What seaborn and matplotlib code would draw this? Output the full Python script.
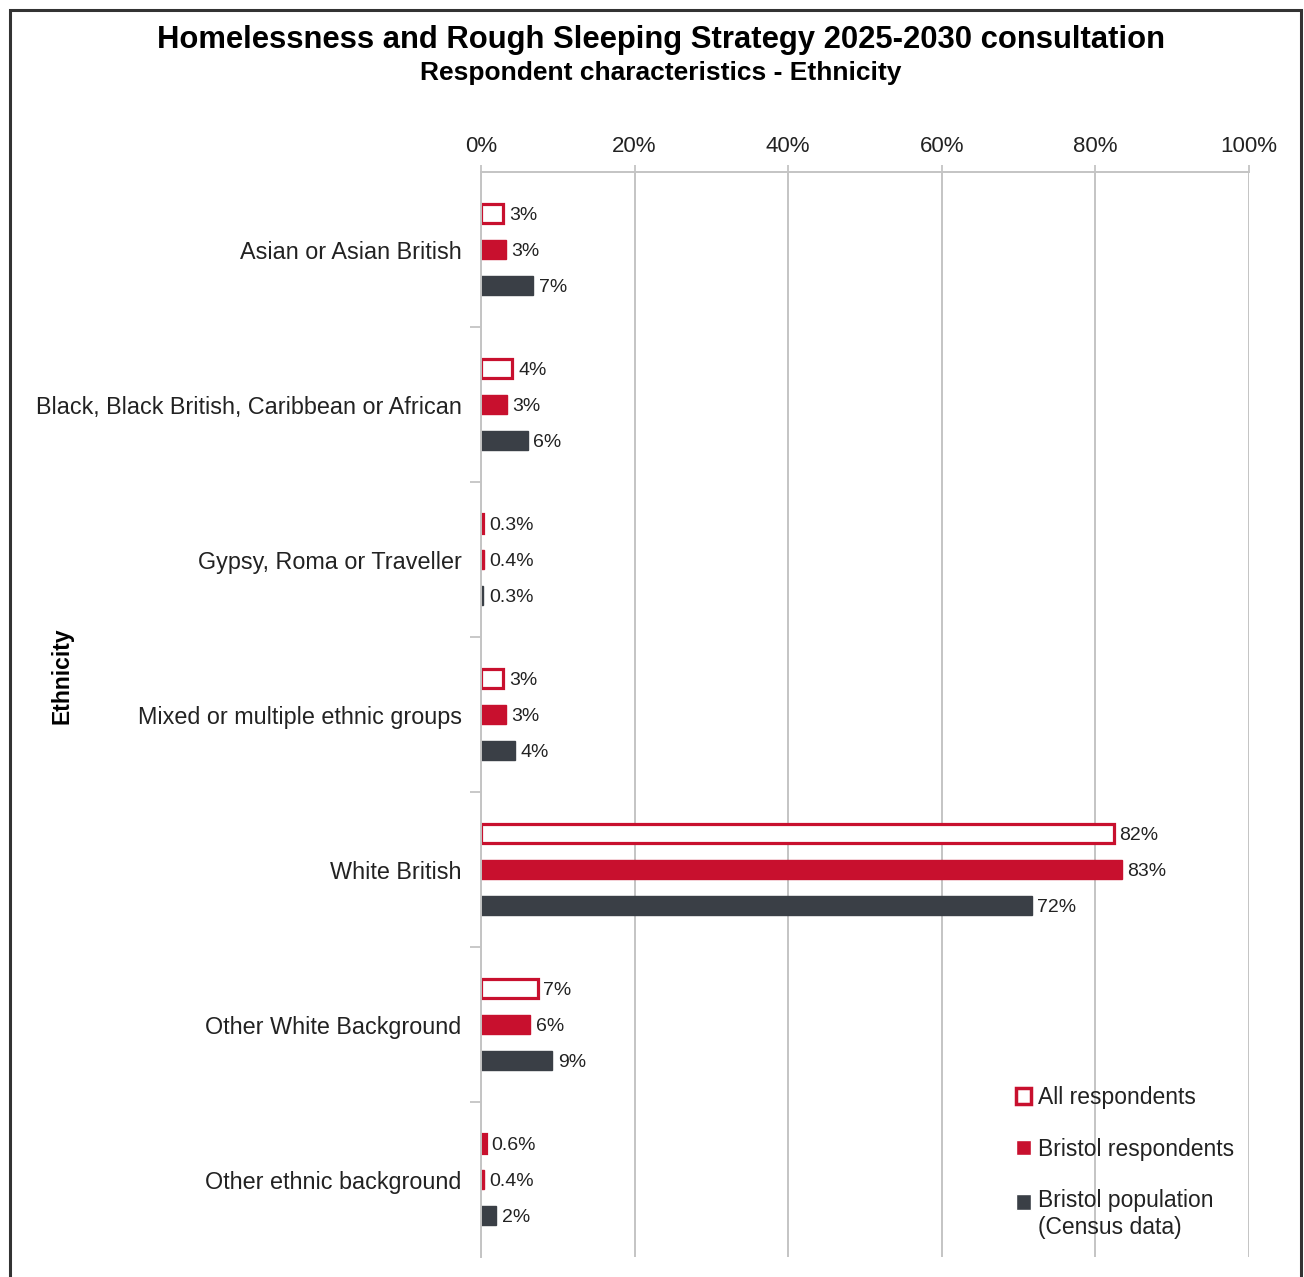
import matplotlib
matplotlib.use("Agg")
import matplotlib.pyplot as plt
from matplotlib.patches import Rectangle
from matplotlib.ticker import FixedLocator, PercentFormatter
import seaborn as sns
import pandas as pd

# Survey data (% of respondents / population)
categories = [
    "Asian or Asian British",
    "Black, Black British, Caribbean or African",
    "Gypsy, Roma or Traveller",
    "Mixed or multiple ethnic groups",
    "White British",
    "Other White Background",
    "Other ethnic background",
]
series_names = ["All respondents", "Bristol respondents",
                "Bristol population\n(Census data)"]
all_respondents = [2.9, 4.1, 0.3, 2.9, 82.4, 7.4, 0.6]
bristol_respondents = [3.2, 3.4, 0.4, 3.2, 83.4, 6.4, 0.4]
bristol_population = [6.8, 6.1, 0.3, 4.4, 71.7, 9.3, 2.0]
x_ticks = [0, 20, 40, 60, 80, 100]

RED = "#C8102E"
DARK = "#3A3F46"
GRID = "#C4C4C4"
TEXT = "#222222"

rows = []
for name, vals in zip(series_names,
                      [all_respondents, bristol_respondents, bristol_population]):
    for cat, v in zip(categories, vals):
        rows.append({"Ethnicity": cat, "group": name, "value": v})
df = pd.DataFrame(rows)

sns.set_theme(style="white")
plt.rcParams["font.family"] = ["Liberation Sans", "DejaVu Sans"]

fig = plt.figure(figsize=(13.04, 12.77), dpi=100)
ax = fig.add_axes([481 / 1304, 1 - 1257 / 1277, 768 / 1304, 1085 / 1277])

sns.barplot(data=df, y="Ethnicity", x="value", hue="group", orient="h",
            order=categories, hue_order=series_names,
            palette=[RED, RED, DARK], width=0.69, gap=0.46,
            errorbar=None, saturation=1, ax=ax)

# hollow style for the first series (very short bars stay solid),
# thin outline on the filled ones
for bar in ax.containers[0]:
    bar.set_facecolor(RED if bar.get_width() < 1 else "white")
    bar.set_edgecolor(RED)
    bar.set_linewidth(2.3)
    bar.set_joinstyle("miter")
for cont, col in zip(ax.containers[1:], [RED, DARK]):
    for bar in cont:
        bar.set_edgecolor(col)
        bar.set_linewidth(1.0)

def fmt(v):
    return f"{v:.1f}%" if v < 1 else f"{v:.0f}%"

for cont, vals in zip(ax.containers,
                      [all_respondents, bristol_respondents, bristol_population]):
    texts = ax.bar_label(cont, labels=[fmt(v) for v in vals], padding=4,
                         fontsize=14, color=TEXT)
    for t in texts:
        t.set_va("center_baseline")

ax.set_xlim(0, 100)
ax.set_ylim(len(categories) - 0.5, -0.5)
ax.xaxis.tick_top()
ax.xaxis.set_label_position("top")
ax.xaxis.set_major_locator(FixedLocator(x_ticks))
ax.xaxis.set_major_formatter(PercentFormatter(decimals=0))
ax.tick_params(axis="x", which="major", direction="out", length=5, width=1.3,
               color=GRID, pad=6, labelsize=16, labelcolor=TEXT, top=True,
               bottom=False)
ax.grid(axis="x", color=GRID, linewidth=1.4)
ax.set_axisbelow(True)

# category labels with separator ticks between groups
ax.yaxis.set_minor_locator(FixedLocator([i + 0.5 for i in range(len(categories) - 1)]))
ax.tick_params(axis="y", which="major", length=0, pad=14, labelsize=16.8,
               labelcolor=TEXT)
ax.tick_params(axis="y", which="minor", direction="out", length=8, width=1.3,
               color=GRID, left=True)
ax.set_ylabel("")
ax.set_xlabel("")

for side in ["right", "bottom"]:
    ax.spines[side].set_visible(False)
for side in ["top", "left"]:
    ax.spines[side].set_color(GRID)
    ax.spines[side].set_linewidth(1.4)

# legend
handles, labels = ax.get_legend_handles_labels()
handles[0].set_facecolor("white")
handles[0].set_edgecolor(RED)
handles[0].set_linewidth(2.5)
leg = ax.legend(handles, labels, loc="upper left",
                bbox_to_anchor=(0.685, 0.166), frameon=False, fontsize=16.5,
                handlelength=0.65, handleheight=0.65, handletextpad=0.3,
                labelspacing=1.25, borderaxespad=0)
for t in leg.get_texts():
    t.set_color(TEXT)
# align the two-line entry's marker with its first line
last = leg.legend_handles[2]
last.set_y(last.get_y() + 9.5)

fig.text(661 / 1304, 1 - 40 / 1277, "Homelessness and Rough Sleeping Strategy 2025-2030 consultation",
         ha="center", va="center", fontsize=22.3, fontweight="bold", color="black")
fig.text(661 / 1304, 1 - 73 / 1277, "Respondent characteristics - Ethnicity",
         ha="center", va="center", fontsize=19, fontweight="bold", color="black")
fig.text(62 / 1304, 1 - 676 / 1277, "Ethnicity", rotation=90, ha="center",
         va="center", fontsize=16.5, fontweight="bold", color="black")

# outer frame
fig.patches.append(Rectangle((10 / 1304, -0.05), 1291 / 1304, 1.05 - 10 / 1277,
                             transform=fig.transFigure, fill=False,
                             edgecolor="#333333", linewidth=2.2))

fig.savefig("out.png", dpi=100, facecolor="white")
